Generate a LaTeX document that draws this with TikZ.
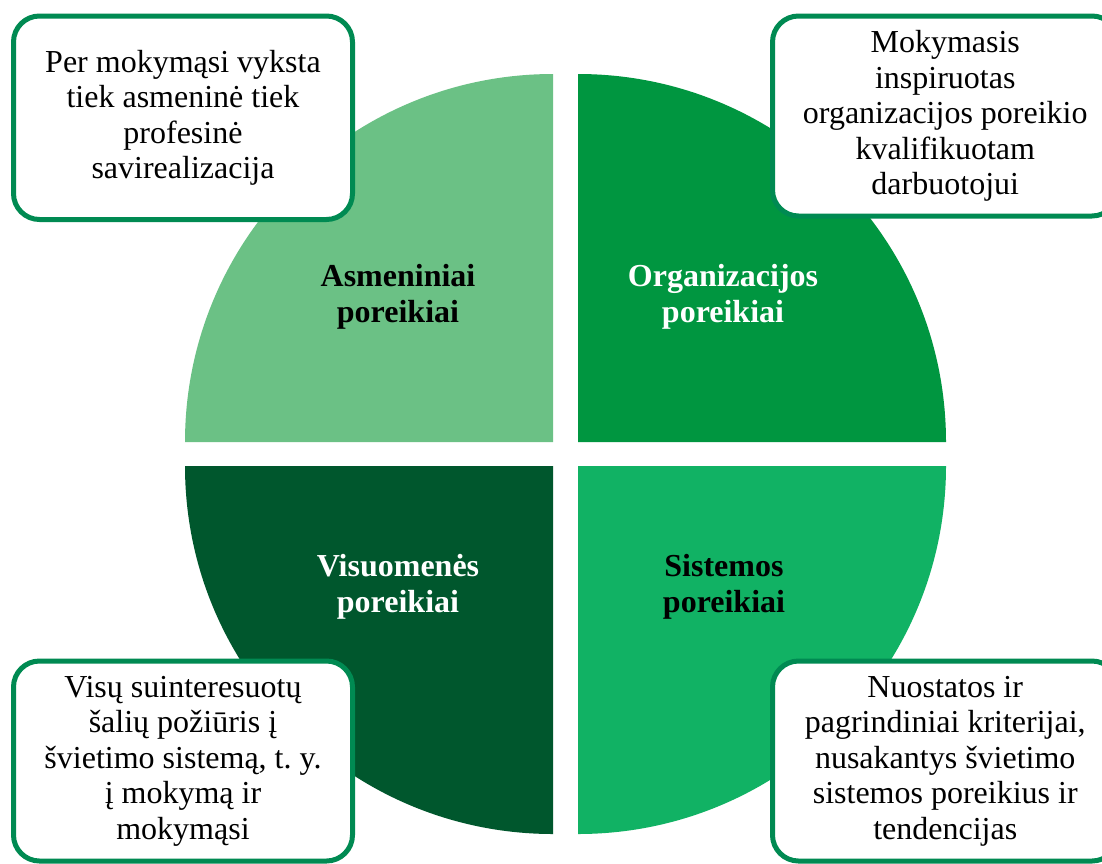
\documentclass[tikz,border=0pt]{standalone}
\usepackage{fontspec}
\setmainfont{Liberation Serif}
\frenchspacing
\definecolor{asmgreen}{RGB}{107,193,133}
\definecolor{orggreen}{RGB}{0,150,64}
\definecolor{visgreen}{RGB}{0,87,45}
\definecolor{sisgreen}{RGB}{17,178,100}
\definecolor{boxgreen}{RGB}{0,138,82}
\tikzset{
  label/.style={align=center, font=\fontsize{32}{36}\selectfont\bfseries, inner sep=0pt},
  notebox/.style={draw=boxgreen, line width=5pt, fill=white, rounded corners=26pt,
    align=center, font=\fontsize{32}{35.5}\selectfont, inner sep=0pt}
}

\begin{document}
\begin{tikzpicture}[x=1pt, y=-1pt]
  \fill[white] (0,0) rectangle (1102,863);
  \useasboundingbox (0,0) rectangle (1102,863);
      % quadrants
      \fill[asmgreen] (553,442) -- (185,442) arc[start angle=180, end angle=270, radius=368] -- cycle;
      \fill[orggreen] (578,442) -- (578,74) arc[start angle=270, end angle=360, radius=368] -- cycle;
      \fill[visgreen] (553,466) -- (553,834) arc[start angle=90, end angle=180, radius=368] -- cycle;
      \fill[sisgreen] (578,466) -- (946,466) arc[start angle=0, end angle=90, radius=368] -- cycle;
    \node[label] (asm) at (398,297) {Asmeniniai\\poreikiai};
    \node[label, text=white] (org) at (723,297) {Organizacijos\\poreikiai};
    \node[label, text=white] (vis) at (398,587) {Visuomenės\\poreikiai};
    \node[label] (sis) at (724,587) {Sistemos\\poreikiai};
      % boxes
      \node[notebox, minimum width=339pt, minimum height=203.5pt] (asmbox) at (183,117.75)
        {Per mokymąsi vyksta\\tiek asmeninė tiek\\profesinė\\savirealizacija};
      \node[notebox, minimum width=345.5pt, minimum height=200pt] (orgbox) at (945.25,116)
        {Mokymasis\\inspiruotas\\organizacijos poreikio\\kvalifikuotam\\darbuotojui};
      \node[notebox, minimum width=339pt, minimum height=200pt] (visbox) at (183,761)
        {Visų suinteresuotų\\šalių požiūris į\\švietimo sistemą, t. y.\\į mokymą ir\\mokymąsi};
      \node[notebox, minimum width=345.5pt, minimum height=200pt] (sisbox) at (945.25,761)
        {Nuostatos ir\\pagrindiniai kriterijai,\\nusakantys švietimo\\sistemos poreikius ir\\tendencijas};
\end{tikzpicture}
\end{document}
